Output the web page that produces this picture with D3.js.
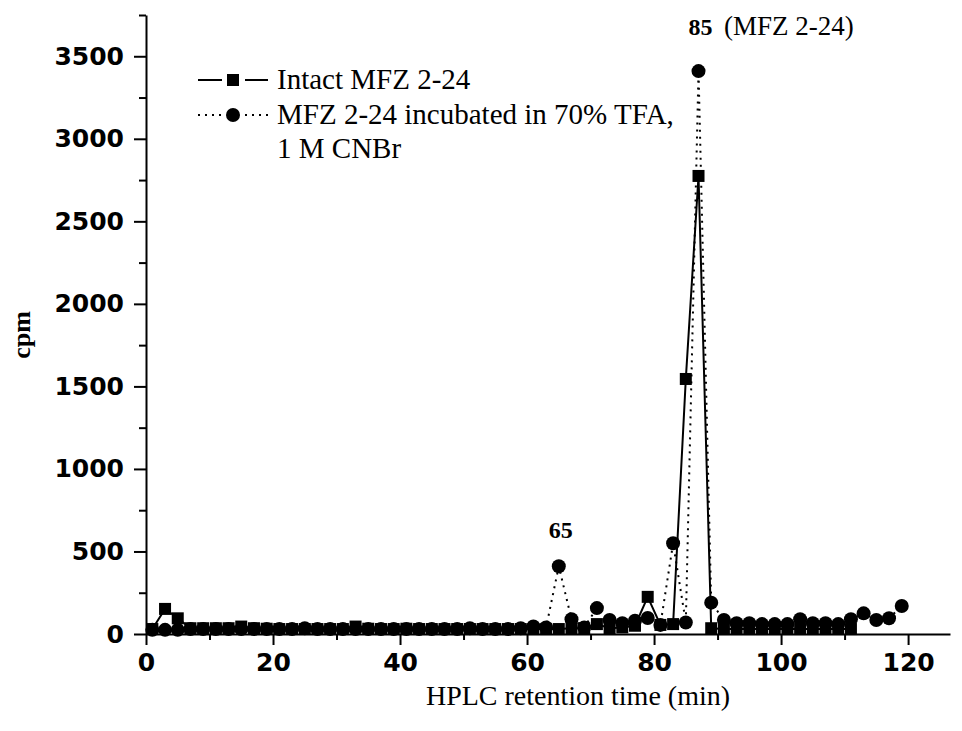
<!doctype html>
<html lang="en">
<head>
<meta charset="utf-8">
<title>HPLC retention time vs cpm</title>
<style>
  body { margin: 0; background: #fff; }
  .tick-label { font-family: "DejaVu Sans", sans-serif; font-weight: bold; font-size: 25px; }
  .serif { font-family: "Liberation Serif", "Times New Roman", serif; fill: #000; }
</style>
</head>
<body>
<div id="chart"></div>
<script src="https://d3js.org/d3.v7.min.js"></script>
<script>
// retention times (min), one fraction every 2 min
var timesTreated = d3.range(1, 120, 2);   // 1 .. 119
var timesIntact = d3.range(1, 112, 2);    // 1 .. 111

// Intact MFZ 2-24 (cpm)
var intactCpm = [
  30, 152, 95, 35, 35, 35, 35, 45, 35, 32,
  30, 30, 30, 30, 30, 30, 45, 32, 30, 30,
  32, 30, 30, 30, 30, 30, 30, 30, 30, 30,
  30, 30, 30, 35, 35, 60, 35, 40, 50, 225,
  55, 60, 1545, 2775, 35, 30, 30, 30, 30, 30,
  30, 30, 30, 30, 30, 30
];

// MFZ 2-24 incubated in 70% TFA, 1 M CNBr (cpm)
var treatedCpm = [
  25, 25, 25, 30, 30, 30, 30, 30, 30, 30,
  30, 30, 35, 30, 30, 30, 30, 30, 30, 30,
  30, 30, 30, 30, 30, 35, 30, 30, 30, 35,
  45, 40, 410, 90, 40, 157, 85, 65, 80, 97,
  55, 550, 70, 3410, 190, 85, 65, 65, 60, 60,
  60, 90, 65, 65, 60, 90, 125, 85, 95, 170
];

var xMajor = [0, 20, 40, 60, 80, 100, 120];
var xMinor = [10, 30, 50, 70, 90, 110];
var yMajor = [0, 500, 1000, 1500, 2000, 2500, 3000, 3500];
var yMinor = [250, 750, 1250, 1750, 2250, 2750, 3250, 3750];

var legendLabels = ["Intact MFZ 2-24", "MFZ 2-24 incubated in 70% TFA,", "1 M CNBr"];

var width = 962, height = 731;
var margin = {top: 15, right: 12, bottom: 97, left: 146};

var svg = d3.select("#chart")
  .append("svg")
    .attr("width", width)
    .attr("height", height);

var x = d3.scaleLinear()
  .domain([0, 126.6])
  .range([margin.left, width - margin.right]);

var y = d3.scaleLinear()
  .domain([0, 3750])
  .range([height - margin.bottom, margin.top]);

var fmt = d3.format("d");

// axes: major + minor ticks
svg.append("g")
  .attr("transform", "translate(0," + y(0) + ")")
  .call(d3.axisBottom(x).tickValues(xMajor).tickFormat(fmt)
    .tickSize(11).tickSizeOuter(0).tickPadding(8));
svg.append("g")
  .attr("transform", "translate(0," + y(0) + ")")
  .call(d3.axisBottom(x).tickValues(xMinor).tickSize(6).tickSizeOuter(0).tickFormat(""))
  .select(".domain").remove();

svg.append("g")
  .attr("transform", "translate(" + x(0) + ",0)")
  .call(d3.axisLeft(y).tickValues(yMajor).tickFormat(fmt)
    .tickSize(12).tickSizeOuter(0).tickPadding(10));
svg.append("g")
  .attr("transform", "translate(" + x(0) + ",0)")
  .call(d3.axisLeft(y).tickValues(yMinor).tickSize(7).tickSizeOuter(0).tickFormat(""))
  .select(".domain").remove();

svg.selectAll(".domain, .tick line")
  .attr("stroke", "#000")
  .attr("stroke-width", 2);
svg.selectAll(".tick text")
  .attr("class", "tick-label")
  .attr("fill", "#000");

// axis titles
svg.append("text")
  .attr("class", "serif")
  .attr("x", 578)
  .attr("y", 705)
  .attr("text-anchor", "middle")
  .style("font-size", "28px")
  .text("HPLC retention time (min)");

svg.append("text")
  .attr("class", "serif")
  .attr("transform", "translate(30,335) rotate(-90)")
  .attr("text-anchor", "middle")
  .style("font-size", "26px")
  .style("font-weight", "bold")
  .text("cpm");

// series
var intact = timesIntact.map(function (t, i) { return {t: t, v: intactCpm[i]}; });
var treated = timesTreated.map(function (t, i) { return {t: t, v: treatedCpm[i]}; });

var line = d3.line()
  .x(function (d) { return x(d.t); })
  .y(function (d) { return y(d.v); });

svg.append("path")
  .datum(intact)
  .attr("fill", "none")
  .attr("stroke", "#000")
  .attr("stroke-width", 2)
  .attr("d", line);

svg.append("path")
  .datum(treated)
  .attr("fill", "none")
  .attr("stroke", "#000")
  .attr("stroke-width", 2)
  .attr("stroke-dasharray", "2,5")
  .attr("d", line);

var sq = 12;
svg.append("g")
  .selectAll("rect")
  .data(intact)
  .enter()
  .append("rect")
    .attr("x", function (d) { return x(d.t) - sq / 2; })
    .attr("y", function (d) { return y(d.v) - sq / 2; })
    .attr("width", sq)
    .attr("height", sq)
    .attr("fill", "#000");

svg.append("g")
  .selectAll("circle")
  .data(treated)
  .enter()
  .append("circle")
    .attr("cx", function (d) { return x(d.t); })
    .attr("cy", function (d) { return y(d.v); })
    .attr("r", 7)
    .attr("fill", "#000");

// peak labels
svg.append("text")
  .attr("class", "serif")
  .attr("x", x(65.3))
  .attr("y", y(410) - 28)
  .attr("text-anchor", "middle")
  .style("font-size", "24px")
  .style("font-weight", "bold")
  .text("65");

svg.append("text")
  .attr("class", "serif")
  .attr("x", x(87.3))
  .attr("y", 35)
  .attr("text-anchor", "middle")
  .style("font-size", "24px")
  .style("font-weight", "bold")
  .text("85");

svg.append("text")
  .attr("class", "serif")
  .attr("x", 724)
  .attr("y", 35)
  .style("font-size", "27px")
  .text("(MFZ 2-24)");

// legend
var leg = svg.append("g").attr("transform", "translate(198,0)");
leg.append("line").attr("x1", 0).attr("x2", 24).attr("y1", 80).attr("y2", 80)
  .attr("stroke", "#000").attr("stroke-width", 2);
leg.append("line").attr("x1", 47).attr("x2", 70).attr("y1", 80).attr("y2", 80)
  .attr("stroke", "#000").attr("stroke-width", 2);
leg.append("rect").attr("x", 35 - sq / 2).attr("y", 80 - sq / 2)
  .attr("width", sq).attr("height", sq).attr("fill", "#000");
leg.append("line").attr("x1", 0).attr("x2", 24).attr("y1", 115).attr("y2", 115)
  .attr("stroke", "#000").attr("stroke-width", 2).attr("stroke-dasharray", "2,5");
leg.append("line").attr("x1", 47).attr("x2", 70).attr("y1", 115).attr("y2", 115)
  .attr("stroke", "#000").attr("stroke-width", 2).attr("stroke-dasharray", "2,5");
leg.append("circle").attr("cx", 35).attr("cy", 115).attr("r", 7).attr("fill", "#000");

leg.selectAll("text.leg")
  .data(legendLabels)
  .enter()
  .append("text")
    .attr("class", "serif leg")
    .attr("x", 79)
    .attr("y", function (d, i) { return 89 + i * 34.5; })
    .style("font-size", "29px")
    .text(function (d) { return d; });
</script>
</body>
</html>
